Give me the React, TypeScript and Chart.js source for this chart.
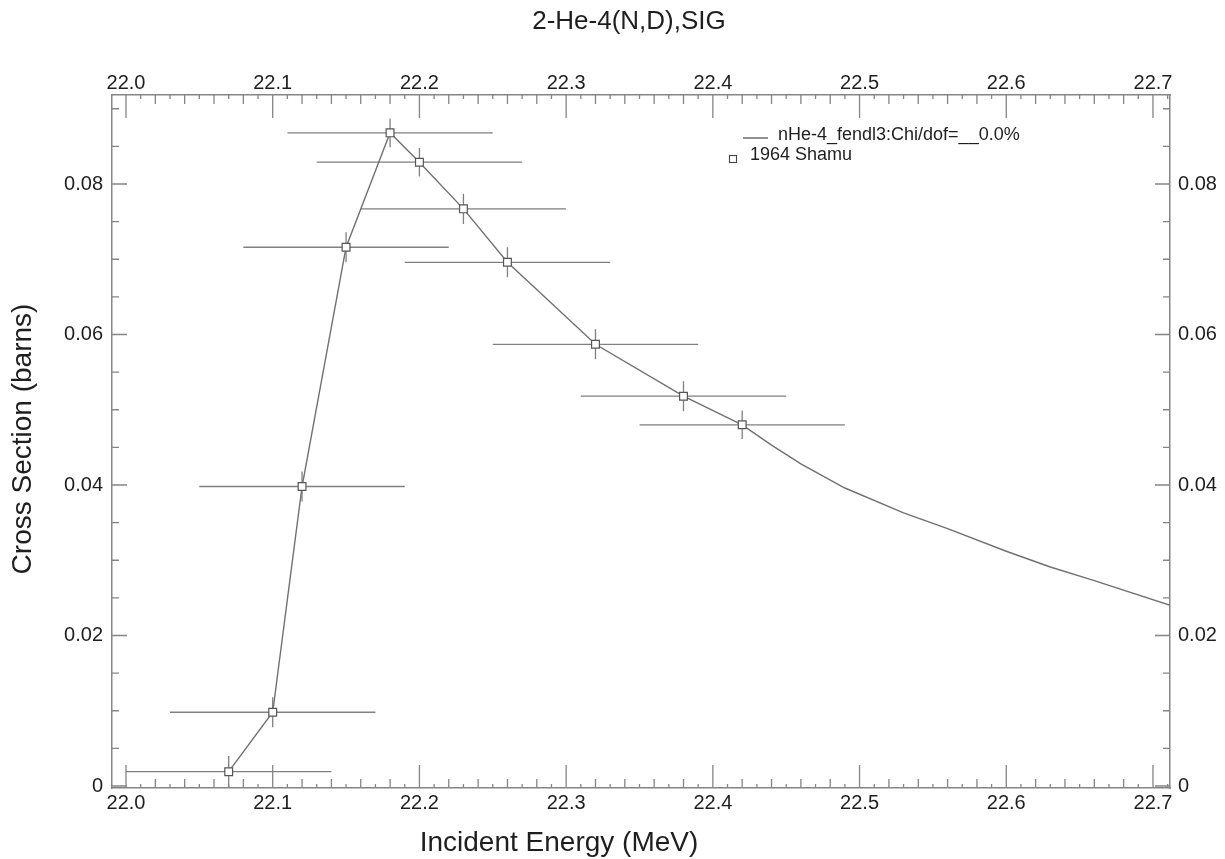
import React, { useEffect, useRef } from 'react';
import { Chart, registerables } from 'chart.js';

Chart.register(...registerables);

// Measured data: 1964 Shamu
const energies = [22.07, 22.10, 22.12, 22.15, 22.18, 22.20, 22.23, 22.26, 22.32, 22.38, 22.42];
const crossSections = [0.0019, 0.0098, 0.0398, 0.0716, 0.0868, 0.0829, 0.0767, 0.0696, 0.0587, 0.0518, 0.0480];
const energyErrors = [0.07, 0.07, 0.07, 0.07, 0.07, 0.07, 0.07, 0.07, 0.07, 0.07, 0.07];
const sigmaErrors = [0.0021, 0.002, 0.002, 0.002, 0.0019, 0.0019, 0.002, 0.002, 0.002, 0.002, 0.0019];

// Evaluated curve: nHe-4_fendl3
const evalEnergies = [22.07, 22.10, 22.12, 22.15, 22.18, 22.20, 22.23, 22.26, 22.32, 22.38, 22.42, 22.44, 22.46, 22.49, 22.53, 22.56, 22.60, 22.63, 22.66, 22.72];
const evalSigmas = [0.0019, 0.0098, 0.0398, 0.0716, 0.0868, 0.0829, 0.0767, 0.0696, 0.0587, 0.0518, 0.0480, 0.0453, 0.0428, 0.0396, 0.0363, 0.0342, 0.0312, 0.0291, 0.0273, 0.0235];

// Axis tick labels
const xTickValues = [22.0, 22.1, 22.2, 22.3, 22.4, 22.5, 22.6, 22.7];
const yTickValues = [0, 0.02, 0.04, 0.06, 0.08];

const X_MIN = 21.99046;
const X_MAX = 22.7116;
const Y_MIN = -0.000266;
const Y_MAX = 0.09183;

const FONT = '"Liberation Sans", Arial, Helvetica, sans-serif';
const AXIS_GRAY = '#858585';
const TEXT = '#1e1e1e';

const decor = {
  id: 'decor',
  beforeDatasetsDraw(chart: any) {
    const { ctx } = chart;
    const x = chart.scales.x;
    const y = chart.scales.y;
    ctx.save();
    ctx.strokeStyle = '#808080';
    ctx.lineWidth = 1.3;
    energies.forEach((e, i) => {
      const px = x.getPixelForValue(e);
      const py = y.getPixelForValue(crossSections[i]);
      const x0 = x.getPixelForValue(e - energyErrors[i]);
      const x1 = x.getPixelForValue(e + energyErrors[i]);
      const y0 = y.getPixelForValue(crossSections[i] - sigmaErrors[i]);
      const y1 = y.getPixelForValue(crossSections[i] + sigmaErrors[i]);
      ctx.beginPath();
      ctx.moveTo(x0, py);
      ctx.lineTo(x1, py);
      ctx.moveTo(px, y0);
      ctx.lineTo(px, y1);
      ctx.stroke();
    });
    ctx.restore();
  },
  afterDraw(chart: any) {
    const { ctx, chartArea } = chart;
    const { left, right, top, bottom } = chartArea;
    const x = chart.scales.x;
    const y = chart.scales.y;
    ctx.save();
    // tick marks (inside)
    ctx.strokeStyle = AXIS_GRAY;
    ctx.lineWidth = 1.3;
    ctx.beginPath();
    for (let k = 0; k <= 71; k++) {
      const v = 22.0 + k * 0.01;
      const px = x.getPixelForValue(v);
      if (px < left || px > right) continue;
      const len = k % 10 === 0 ? 23 : k % 2 === 0 ? 9 : 4;
      ctx.moveTo(px, bottom);
      ctx.lineTo(px, bottom - len);
      ctx.moveTo(px, top);
      ctx.lineTo(px, top + len);
    }
    for (let k = 0; k <= 18; k++) {
      const v = k * 0.005;
      const py = y.getPixelForValue(v);
      if (py < top || py > bottom) continue;
      const len = k % 4 === 0 ? 15 : 7;
      ctx.moveTo(left, py);
      ctx.lineTo(left + len, py);
      ctx.moveTo(right, py);
      ctx.lineTo(right - len, py);
    }
    ctx.stroke();

    // Title and axis titles
    ctx.fillStyle = TEXT;
    ctx.textAlign = 'center';
    ctx.textBaseline = 'middle';
    ctx.font = `26px ${FONT}`;
    ctx.fillText('2-He-4(N,D),SIG', 629, 22);
    ctx.font = `28px ${FONT}`;
    ctx.fillText('Incident Energy (MeV)', 559, 843);
    ctx.save();
    ctx.translate(23, 439);
    ctx.rotate(-Math.PI / 2);
    ctx.fillText('Cross Section (barns)', 0, 0);
    ctx.restore();

    // Legend
    ctx.strokeStyle = '#555';
    ctx.lineWidth = 1.3;
    ctx.beginPath();
    ctx.moveTo(743, 138);
    ctx.lineTo(768, 138);
    ctx.stroke();
    ctx.fillStyle = '#fff';
    ctx.fillRect(729.5, 155.5, 7, 7);
    ctx.strokeStyle = '#444';
    ctx.lineWidth = 1.1;
    ctx.strokeRect(729.5, 155.5, 7, 7);
    ctx.fillStyle = TEXT;
    ctx.textAlign = 'left';
    ctx.font = `18px ${FONT}`;
    ctx.fillText('nHe-4_fendl3:Chi/dof=__0.0%', 778, 135);
    ctx.fillText('1964 Shamu', 750, 155);
    ctx.restore();
  },
};

export default function App() {
  const canvasRef = useRef<HTMLCanvasElement | null>(null);

  useEffect(() => {
    if (!canvasRef.current) return;
    const tickFont = { family: FONT, size: 20 };
    const border = { display: true, color: AXIS_GRAY, width: 1.5 };
    const xTicks = (s: any) => {
      s.ticks = xTickValues.map((v) => ({ value: v }));
    };
    const yTicks = (s: any) => {
      s.ticks = yTickValues.map((v) => ({ value: v }));
    };
    const xLabel = (v: any) => Number(v).toFixed(1);
    const yLabel = (v: any) => (Number(v) === 0 ? '0' : Number(v).toFixed(2));

    const chart = new Chart(canvasRef.current, {
      type: 'scatter',
      data: {
        datasets: [
          {
            label: '1964 Shamu',
            data: energies.map((e, i) => ({ x: e, y: crossSections[i] })),
            showLine: false,
            pointStyle: 'rect',
            pointRadius: 5.5,
            pointBackgroundColor: '#ffffff',
            pointBorderColor: '#555555',
            pointBorderWidth: 1.2,
            xAxisID: 'x',
            yAxisID: 'y',
          },
          {
            label: 'nHe-4_fendl3',
            data: evalEnergies.map((e, i) => ({ x: e, y: evalSigmas[i] })),
            showLine: true,
            borderColor: '#707070',
            borderWidth: 1.4,
            pointRadius: 0,
            tension: 0,
            xAxisID: 'x',
            yAxisID: 'y',
          },
        ],
      },
      options: {
        responsive: false,
        animation: false,
        events: [],
        layout: { padding: 0 },
        plugins: {
          legend: { display: false },
          tooltip: { enabled: false },
          title: { display: false },
        },
        scales: {
          x: {
            type: 'linear',
            position: 'bottom',
            min: X_MIN,
            max: X_MAX,
            grid: { display: false, drawTicks: false },
            border,
            ticks: { padding: 3, font: tickFont, color: TEXT, callback: xLabel, maxRotation: 0, autoSkip: false },
            afterBuildTicks: xTicks,
            afterFit: (s: any) => { s.height = 71; },
          },
          x2: {
            type: 'linear',
            position: 'top',
            min: X_MIN,
            max: X_MAX,
            grid: { display: false, drawTicks: false },
            border,
            ticks: { padding: 0, font: tickFont, color: TEXT, callback: xLabel, maxRotation: 0, autoSkip: false },
            afterBuildTicks: xTicks,
            afterFit: (s: any) => { s.height = 95; },
          },
          y: {
            type: 'linear',
            position: 'left',
            min: Y_MIN,
            max: Y_MAX,
            grid: { display: false, drawTicks: false },
            border,
            ticks: { padding: 9, font: tickFont, color: TEXT, callback: yLabel, autoSkip: false },
            afterBuildTicks: yTicks,
            afterFit: (s: any) => { s.width = 112; },
          },
          y2: {
            type: 'linear',
            position: 'right',
            min: Y_MIN,
            max: Y_MAX,
            grid: { display: false, drawTicks: false },
            border,
            ticks: { padding: 8, font: tickFont, color: TEXT, callback: yLabel, autoSkip: false },
            afterBuildTicks: yTicks,
            afterFit: (s: any) => { s.width = 55; },
          },
        },
      } as any,
      plugins: [decor],
    });
    return () => chart.destroy();
  }, []);

  return (
    <div style={{ position: 'fixed', left: 0, top: 0, width: 1225, height: 859, background: '#fff' }}>
      <canvas ref={canvasRef} width={1225} height={859} style={{ display: 'block' }} />
    </div>
  );
}
